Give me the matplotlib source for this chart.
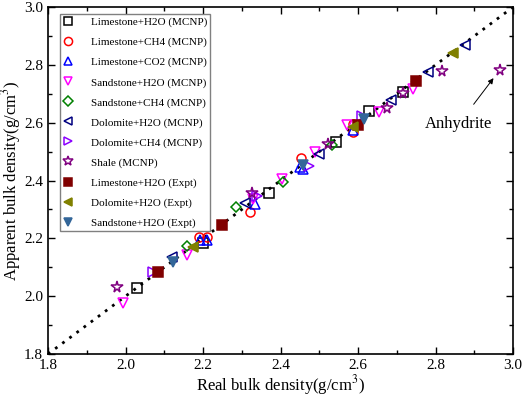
import numpy as np
import matplotlib.pyplot as plt
from matplotlib.ticker import MultipleLocator

plt.rcParams['font.family'] = ['Liberation Serif', 'DejaVu Serif']
plt.rcParams['mathtext.fontset'] = 'stix'

# (real, apparent) bulk densities in g/cm3
lime_h2o_x = [2.03, 2.20, 2.37, 2.543, 2.628, 2.716]
lime_h2o_y = [2.028, 2.184, 2.357, 2.534, 2.641, 2.706]
lime_ch4_x = [2.19, 2.21, 2.321, 2.453, 2.587, 2.587]
lime_ch4_y = [2.205, 2.205, 2.291, 2.478, 2.596, 2.568]
lime_co2_x = [2.192, 2.21, 2.334, 2.45, 2.458, 2.587]
lime_co2_y = [2.194, 2.194, 2.319, 2.447, 2.44, 2.575]
sand_h2o_x = [1.994, 2.159, 2.33, 2.404, 2.489, 2.572, 2.654, 2.742]
sand_h2o_y = [1.976, 2.143, 2.335, 2.405, 2.499, 2.592, 2.637, 2.717]
sand_ch4_x = [2.159, 2.285, 2.406, 2.533]
sand_ch4_y = [2.174, 2.307, 2.395, 2.523]
dolo_h2o_x = [2.12, 2.308, 2.499, 2.685, 2.78, 2.876]
dolo_h2o_y = [2.136, 2.323, 2.492, 2.679, 2.776, 2.869]
dolo_ch4_x = [2.071, 2.339, 2.474, 2.61]
dolo_ch4_y = [2.084, 2.347, 2.45, 2.624]
shale_x = [1.978, 2.326, 2.523, 2.675, 2.716, 2.817, 2.966]
shale_y = [2.032, 2.357, 2.527, 2.65, 2.703, 2.779, 2.783]
lime_exp_x = [2.084, 2.25, 2.60, 2.75]
lime_exp_y = [2.084, 2.246, 2.592, 2.745]
dolo_exp_x = [2.174, 2.587, 2.845]
dolo_exp_y = [2.17, 2.585, 2.84]
sand_exp_x = [2.123, 2.458, 2.616]
sand_exp_y = [2.118, 2.454, 2.613]

series = [
    (lime_h2o_x, lime_h2o_y, 's', 'black', 'none', 'Limestone+H2O (MCNP)'),
    (lime_ch4_x, lime_ch4_y, 'o', 'red', 'none', 'Limestone+CH4 (MCNP)'),
    (lime_co2_x, lime_co2_y, '^', 'blue', 'none', 'Limestone+CO2 (MCNP)'),
    (sand_h2o_x, sand_h2o_y, 'v', 'magenta', 'none', 'Sandstone+H2O (MCNP)'),
    (sand_ch4_x, sand_ch4_y, 'D', 'green', 'none', 'Sandstone+CH4 (MCNP)'),
    (dolo_h2o_x, dolo_h2o_y, '<', 'navy', 'none', 'Dolomite+H2O (MCNP)'),
    (dolo_ch4_x, dolo_ch4_y, '>', '#8b00ff', 'none', 'Dolomite+CH4 (MCNP)'),
    (shale_x, shale_y, '*', 'purple', 'none', 'Shale (MCNP)'),
    (lime_exp_x, lime_exp_y, 's', '#800000', '#800000', 'Limestone+H2O (Expt)'),
    (dolo_exp_x, dolo_exp_y, '<', '#808000', '#808000', 'Dolomite+H2O (Expt)'),
    (sand_exp_x, sand_exp_y, 'v', '#336699', '#336699', 'Sandstone+H2O (Expt)'),
]

fig = plt.figure(figsize=(5.26, 3.96), dpi=100)
ax = fig.add_axes([0.0913, 0.106, 0.884, 0.876])

ax.plot([1.8, 3.0], [1.8, 3.0], color='black', linestyle=(0, (1, 2.2)), linewidth=2)

for x, y, m, c, fc, lab in series:
    ms = 8.5 if m == '*' else (5.5 if m == 'D' else 6.5)
    ax.plot(x, y, linestyle='none', marker=m, markersize=ms, markeredgecolor=c,
            markerfacecolor=fc, markeredgewidth=1.1, label=lab)

ax.annotate('Anhydrite', xy=(2.954, 2.762), xytext=(2.86, 2.596),
            ha='center', va='center', fontsize=12,
            arrowprops=dict(arrowstyle='-|>', color='black', lw=0.7,
                            shrinkA=8, shrinkB=2, mutation_scale=8))

ax.set_xlim(1.8, 3.0)
ax.set_ylim(1.8, 3.0)
ax.xaxis.set_major_locator(MultipleLocator(0.2))
ax.xaxis.set_minor_locator(MultipleLocator(0.1))
ax.yaxis.set_major_locator(MultipleLocator(0.2))
ax.yaxis.set_minor_locator(MultipleLocator(0.1))
ax.tick_params(which='both', direction='in', top=True, right=True, labelsize=11)
ax.tick_params(which='major', length=5, width=1)
ax.tick_params(which='minor', length=3, width=1)
for s in ax.spines.values():
    s.set_linewidth(1.2)

ax.set_xlabel('Real bulk density(g/cm$^3$)', fontsize=12, labelpad=1)
ax.set_ylabel('Apparent bulk density(g/cm$^3$)', fontsize=12, labelpad=1)

leg = ax.legend(loc='upper left', bbox_to_anchor=(0.025, 0.98), fontsize=8,
                fancybox=False, edgecolor='gray', framealpha=1,
                handletextpad=1.6, labelspacing=0.9, borderpad=0.3,
                handlelength=0.9, borderaxespad=0, markerscale=0.9)
leg.get_frame().set_linewidth(1.0)

fig.savefig('out.png', dpi=100)
